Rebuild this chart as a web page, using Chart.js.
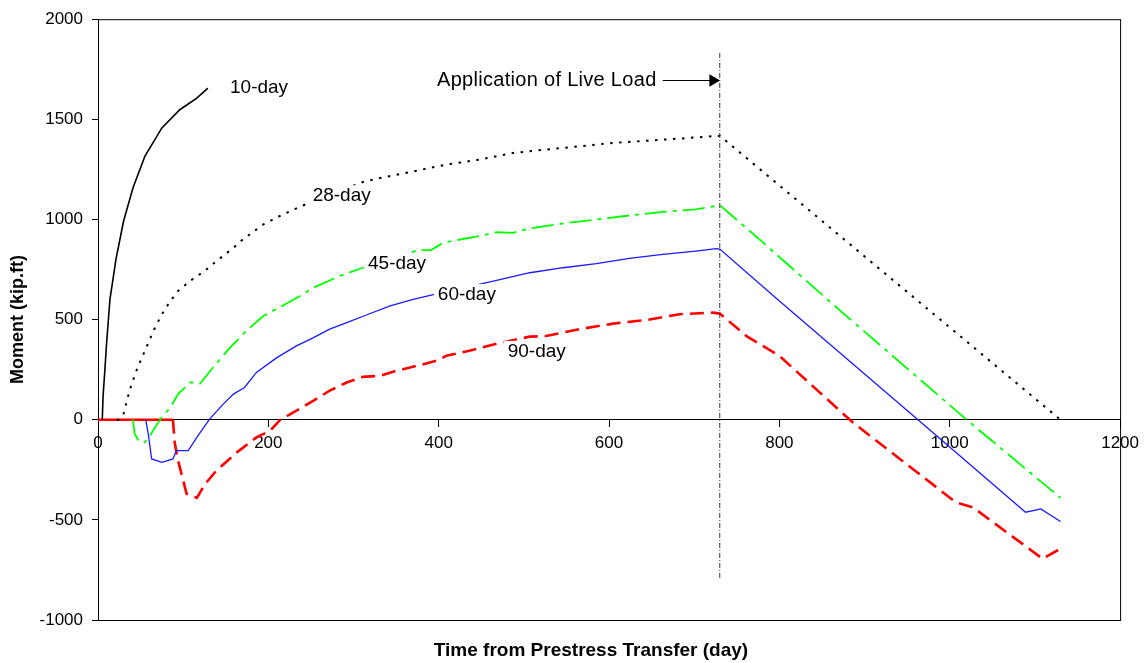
<!DOCTYPE html>
<html>
<head>
<meta charset="utf-8">
<script src="https://cdn.jsdelivr.net/npm/chart.js@4"></script>
<style>
  body { margin: 0; background: #fff; }
</style>
</head>
<body>
<canvas id="myChart" width="1145" height="663"></canvas>
<script>
// moment vs time for each transfer age
const days10 = [5, 6, 8, 10, 14, 21, 30, 41, 55, 75, 96, 116, 129];
const moment10 = [0, 120, 244, 377, 600, 800, 991, 1157, 1315, 1457, 1548, 1606, 1656];

const days28 = [22, 24, 30, 37, 45, 55, 65, 75, 85, 94, 108, 125, 139, 159, 170, 194, 217, 245, 311, 331, 370, 409, 448, 487, 526, 565, 604, 644, 683, 730, 1130];
const moment28 = [0, 0, 30, 145, 244, 344, 443, 527, 593, 643, 693, 742, 792, 858, 900, 975, 1025, 1078, 1187, 1207, 1240, 1274, 1299, 1332, 1349, 1365, 1382, 1393, 1404, 1418, 0];

const days45 = [41, 43, 49, 55, 60, 67, 75, 85, 94, 108, 114, 120, 135, 155, 174, 194, 214, 237, 253, 284, 311, 376, 391, 405, 425, 448, 468, 487, 507, 546, 585, 624, 663, 702, 730, 767, 874, 1019, 1130];
const moment45 = [0, -71, -113, -113, -88, -38, 12, 61, 128, 186, 186, 181, 261, 360, 443, 518, 563, 618, 659, 718, 759, 847, 847, 883, 900, 917, 937, 933, 955, 980, 1000, 1020, 1038, 1050, 1071, 936, 535, 3, -390];

const days60 = [56, 59, 63, 75, 88, 92, 106, 116, 131, 147, 159, 172, 186, 210, 233, 253, 272, 292, 315, 343, 370, 395, 468, 507, 546, 585, 624, 663, 702, 726, 730, 800, 962, 1089, 1107, 1130];
const moment60 = [0, -71, -196, -213, -196, -154, -154, -88, 3, 78, 128, 161, 236, 310, 369, 410, 452, 485, 523, 568, 601, 626, 696, 734, 759, 779, 806, 826, 842, 854, 852, 593, 3, -462, -445, -508];

const days90 = [0, 88, 90, 94, 104, 116, 126, 139, 163, 186, 202, 214, 229, 253, 272, 292, 311, 331, 350, 378, 397, 409, 436, 468, 507, 526, 565, 605, 644, 683, 722, 730, 761, 800, 886, 1007, 1027, 1109, 1130];
const moment90 = [0, 0, -113, -204, -370, -390, -320, -254, -163, -88, -55, 0, 36, 95, 145, 186, 214, 219, 244, 273, 294, 319, 344, 380, 415, 418, 452, 480, 498, 527, 535, 530, 419, 319, -13, -412, -437, -694, -644];

// live load marker
const liveLoadDay = 730;
const liveLoadRange = [-790, 1840];
const arrowDays = [663, 722];
const arrowMoment = 1694;

const xTicks = { min: 0, max: 1200, step: 200 };
const yTicks = { min: -1000, max: 2000, step: 500 };

const xTitle = "Time from Prestress Transfer (day)";
const yTitle = "Moment (kip.ft)";

function pairs(xs, ys) {
  return xs.map((x, i) => ({ x: x, y: ys[i] }));
}

// text placed on the plot, in data coordinates (left edge, middle)
const notes = [
  { text: "10-day", x: 155, y: 1659, size: 19, spacing: 0 },
  { text: "28-day", x: 252, y: 1116, size: 19, spacing: 0 },
  { text: "45-day", x: 317, y: 777, size: 19, spacing: 0 },
  { text: "60-day", x: 399, y: 623, size: 19, spacing: 0 },
  { text: "90-day", x: 481, y: 339, size: 19, spacing: 0 },
  { text: "Application of Live Load", x: 398, y: 1694, size: 20, spacing: 0.3 },
];

const frameAndNotes = {
  id: "frameAndNotes",
  beforeDatasetsDraw(chart) {
    const a = chart.chartArea;
    const ctx = chart.ctx;
    ctx.save();
    ctx.strokeStyle = "#000";
    ctx.lineWidth = 1;
    ctx.strokeRect(a.left + 0.5, a.top + 0.5, a.right - a.left, a.bottom - a.top);
    ctx.restore();
  },
  afterDatasetsDraw(chart) {
    const ctx = chart.ctx;
    const xs = chart.scales.x;
    const ys = chart.scales.y;
    ctx.save();
    ctx.textBaseline = "middle";
    ctx.textAlign = "left";
    for (const n of notes) {
      ctx.font = n.size + "px 'Liberation Sans', Arial, sans-serif";
      ctx.letterSpacing = n.spacing + "px";
      const px = xs.getPixelForValue(n.x);
      const py = ys.getPixelForValue(n.y);
      const w = ctx.measureText(n.text).width;
      ctx.fillStyle = "#fff";
      ctx.fillRect(px - 4, py - 11, w + 8, 22);
      ctx.fillStyle = "#000";
      ctx.fillText(n.text, px, py);
    }
    ctx.letterSpacing = "0px";
    // x axis title sits at the bottom of the canvas
    const a = chart.chartArea;
    ctx.font = "bold 19px 'Liberation Sans', Arial, sans-serif";
    ctx.textAlign = "center";
    ctx.fillText(xTitle, 591, 651);
    ctx.restore();
  },
};

Chart.defaults.font.family = "'Liberation Sans', Arial, sans-serif";
Chart.defaults.color = "#000";

new Chart("myChart", {
  type: "scatter",
  data: {
    datasets: [
      {
        label: "live load",
        data: [{ x: liveLoadDay, y: liveLoadRange[0] }, { x: liveLoadDay, y: liveLoadRange[1] }],
        borderColor: "#333",
        borderWidth: 1,
        borderDash: [5, 2, 1, 2],
      },
      {
        label: "arrow",
        data: [{ x: arrowDays[0], y: arrowMoment }, { x: arrowDays[1], y: arrowMoment }],
        borderColor: "#000",
        backgroundColor: "#000",
        borderWidth: 1.2,
        pointRadius: [0, 6],
        pointStyle: "triangle",
        rotation: 90,
      },
      {
        label: "10-day",
        data: pairs(days10, moment10),
        borderColor: "#000",
        borderWidth: 1.6,
      },
      {
        label: "28-day",
        data: pairs(days28, moment28),
        borderColor: "#000",
        borderWidth: 2,
        borderDash: [2.5, 6.5],
      },
      {
        label: "45-day",
        data: pairs(days45, moment45),
        borderColor: "#00ff00",
        borderWidth: 1.8,
        borderDash: [22, 6, 4, 6],
      },
      {
        label: "60-day",
        data: pairs(days60, moment60),
        borderColor: "#1a1aff",
        borderWidth: 1.3,
      },
      {
        label: "90-day",
        data: pairs(days90, moment90),
        borderColor: "#ff0000",
        borderWidth: 2.6,
        borderDash: [14, 7],
        segment: {
          // the flat start along zero reads as a solid line
          borderDash: (c) => (c.p0.parsed.y === 0 && c.p1.parsed.y === 0 ? [] : undefined),
        },
      },
    ],
  },
  options: {
    responsive: false,
    animation: false,
    events: [],
    showLine: true,
    elements: {
      point: { radius: 0 },
      line: { tension: 0, fill: false },
    },
    layout: { padding: { top: 18, right: 22, left: 0, bottom: 43 } },
    plugins: {
      legend: { display: false },
      tooltip: { enabled: false },
    },
    scales: {
      x: {
        type: "linear",
        position: { y: 0 },
        min: xTicks.min,
        max: xTicks.max,
        afterFit: function (scale) {
          scale.height = 0;
        },
        ticks: {
          stepSize: xTicks.step,
          font: { size: 17 },
          padding: 6,
          maxRotation: 0,
          callback: (v) => String(v),
        },
        grid: { drawOnChartArea: false, tickLength: 7, color: "#000" },
        border: { color: "#000" },
      },
      y: {
        type: "linear",
        min: yTicks.min,
        max: yTicks.max,
        afterFit: function (scale) {
          scale.width = 98;
        },
        ticks: { stepSize: yTicks.step, font: { size: 17 }, padding: 9, callback: (v) => String(v) },
        grid: { drawOnChartArea: false, tickLength: 6, color: "#000" },
        border: { color: "#000" },
        title: {
          display: true,
          text: yTitle,
          font: { size: 18, weight: "bold" },
          padding: { top: 7, bottom: 0 },
        },
      },
    },
  },
  plugins: [frameAndNotes],
});
</script>
</body>
</html>
